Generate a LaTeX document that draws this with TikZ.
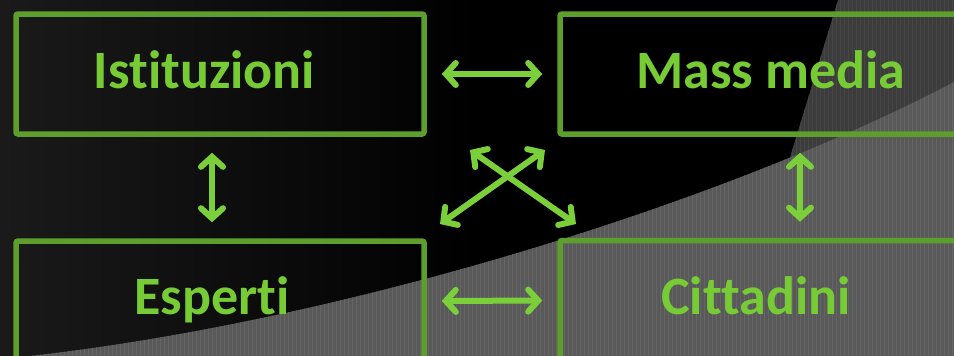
\documentclass[tikz,border=0pt]{standalone}
\usepackage{fontspec}
\setmainfont{Carlito}[Ligatures=NoCommon]
\usetikzlibrary{arrows.meta}
\definecolor{boxgreen}{HTML}{5E9E2C}
\definecolor{txtgreen}{HTML}{77CC36}
\definecolor{arrgreen}{HTML}{7BCF3A}
\definecolor{darkzone}{HTML}{3C3C3C}
\definecolor{darkgrid}{HTML}{464646}
\definecolor{lightzone}{HTML}{595959}
\definecolor{lightgrid}{HTML}{656565}
\definecolor{bgleft}{HTML}{1A1A1A}
\tikzset{
  panel/.style={draw=boxgreen, line width=5.5pt, rounded corners=2pt,
    minimum width=408pt, minimum height=120pt, inner sep=0pt},
  caption/.style={text=txtgreen, anchor=base, inner sep=0pt,
    font=\bfseries\fontsize{54}{54}\selectfont},
  link/.style={draw=arrgreen, line width=6pt, line cap=round,
    {Straight Barb[length=10pt,width=22pt,line cap=round]}-{Straight Barb[length=10pt,width=22pt,line cap=round]}}
}
\begin{document}
\begin{tikzpicture}[x=1pt,y=-1pt]
\useasboundingbox (0,0) rectangle (954,356);
\begin{scope}
\clip (0,0) rectangle (954,356);
% backdrop: faint glow on the left fading to black
\fill[black] (0,0) rectangle (954,356);
\shade[left color=bgleft, right color=black] (0,0) rectangle (480,356);
% upper right wedge
\begin{scope}
\clip (838,0) -- (777,200) -- (954,200) -- (954,0) -- cycle;
\fill[darkzone] (700,0) rectangle (954,200);
\draw[darkgrid, line width=0.6pt, step=4] (700,0) grid (954,200);
\end{scope}
% lower right sweep
\begin{scope}
\clip (30,356) .. controls (350,320) and (730,200) .. (954,82) -- (954,356) -- cycle;
\fill[lightzone] (0,60) rectangle (954,356);
\draw[lightgrid, line width=0.5pt, step=4] (0,60) grid (954,356);
\end{scope}
% boxes
\node[panel] (ist) at (220,74) {};
\node[panel] (mm)  at (764,74) {};
\node[panel] (esp) at (220,301) {};
\node[panel] (cit) at (764,300.5) {};
% captions
\node[caption] (tist) at (204.5,88) {Istituzioni};
\node[caption] (tmm)  at (771,88) {Mass media};
\node[caption] (tesp) at (212,314) {Esperti};
\node[caption] (tcit) at (756,314) {Cittadini};
% connectors
\draw[link, shorten <=15pt, shorten >=15pt] (ist.east) -- (mm.west);
\draw[link, shorten <=15pt, shorten >=15pt] (esp.east) -- (cit.west);
\draw[link, shorten <=16pt, shorten >=16pt] ([xshift=-8pt]ist.south) -- ([xshift=-8pt]esp.north);
\draw[link, shorten <=16pt, shorten >=16pt] ([xshift=36pt]mm.south) -- ([xshift=36pt]cit.north);
\coordinate (xa) at (470,150);
\coordinate (xb) at (576,224);
\coordinate (xc) at (545,150);
\coordinate (xd) at (440,224);
\draw[link] (xa) -- (xb);
\draw[link] (xc) -- (xd);
\end{scope}
\end{tikzpicture}
\end{document}
